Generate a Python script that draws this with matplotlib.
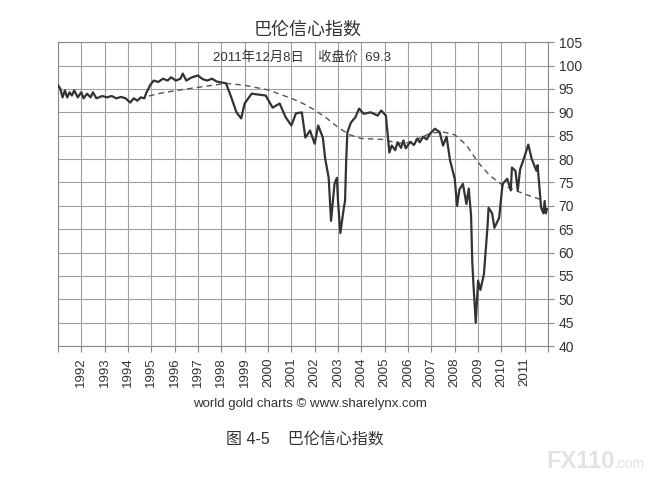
import matplotlib
matplotlib.use("Agg")
import matplotlib.pyplot as plt

plt.rcParams['font.family'] = ['Liberation Sans', 'Noto Sans CJK SC', 'DejaVu Sans']

# Barron's confidence index (decimal year, value)
years = [1991.0, 1991.1, 1991.2, 1991.3, 1991.4, 1991.5, 1991.6, 1991.7, 1991.85,
         1992.0, 1992.1, 1992.25, 1992.4, 1992.5, 1992.65, 1992.9, 1993.1, 1993.3,
         1993.5, 1993.7, 1993.9, 1994.1, 1994.25, 1994.4, 1994.55, 1994.7, 1994.8,
         1994.95, 1995.1, 1995.3, 1995.5, 1995.7, 1995.85, 1996.05, 1996.25, 1996.35,
         1996.5, 1996.7, 1997.0, 1997.2, 1997.4, 1997.6, 1997.8, 1998.0, 1998.2,
         1998.4, 1998.65, 1998.85, 1999.0, 1999.3, 1999.6, 1999.9, 2000.2, 2000.5,
         2000.75, 2001.0, 2001.2, 2001.45, 2001.6, 2001.8, 2002.0, 2002.15, 2002.35,
         2002.45, 2002.6, 2002.7, 2002.85, 2002.95, 2003.0, 2003.1, 2003.25, 2003.3,
         2003.35, 2003.4, 2003.55, 2003.75, 2003.9, 2004.1, 2004.4, 2004.7, 2004.85,
         2005.05, 2005.2, 2005.3, 2005.45, 2005.55, 2005.7, 2005.8, 2005.9, 2006.1,
         2006.25, 2006.4, 2006.5, 2006.65, 2006.8, 2006.95, 2007.15, 2007.35, 2007.5,
         2007.65, 2007.8, 2008.0, 2008.1, 2008.2,
         2008.35, 2008.5, 2008.6, 2008.7, 2008.75, 2008.8, 2008.9, 2009.0, 2009.1,
         2009.25, 2009.4, 2009.45, 2009.6, 2009.7, 2009.9, 2010.05, 2010.25, 2010.4,
         2010.45, 2010.6, 2010.7, 2010.8, 2011.0, 2011.15, 2011.3, 2011.5, 2011.55,
         2011.7, 2011.8, 2011.85, 2011.9, 2011.95]
index = [95.8, 95.1, 93.2, 94.7, 93.2, 94.3, 93.6, 94.7, 93.2,
         94.3, 93.0, 94.0, 93.2, 94.3, 93.0, 93.5, 93.2, 93.5,
         93.0, 93.3, 93.0, 92.1, 93.0, 92.5, 93.2, 93.0, 94.3,
         95.8, 96.8, 96.5, 97.2, 96.8, 97.5, 96.8, 97.2, 98.3,
         96.8, 97.4, 97.9, 97.1, 96.8, 97.2, 96.6, 96.4, 96.2,
         93.6, 90.0, 88.7, 91.9, 94.0, 93.8, 93.6, 91.0, 91.9,
         89.0, 87.2, 89.8, 90.0, 84.6, 86.1, 83.3, 87.2, 84.6,
         80.1, 76.0, 66.8, 74.7, 76.0, 71.0, 64.2, 69.6, 71.0,
         79.7, 85.7, 87.8, 89.0, 90.8, 89.7, 90.0, 89.3, 90.4,
         89.3, 81.4, 82.9, 81.9, 83.6, 82.4, 84.0, 82.3, 83.7,
         83.0, 84.4, 83.6, 84.8, 84.2, 85.5, 86.5, 85.8, 82.9,
         84.8, 79.7, 75.8, 70.0, 73.5,
         74.7, 70.4, 73.7, 67.9, 58.2, 53.3, 45.0, 54.0, 52.0,
         55.4, 65.3, 69.6, 68.4, 65.3, 67.4, 74.7, 75.8, 73.3,
         78.2, 77.5, 73.3, 77.8, 80.7, 83.1, 80.0, 77.5, 78.7,
         69.6, 68.4, 71.0, 68.4, 69.3]

# long moving average (dashed)
ma_years = [1994.9, 1995.5, 1996.5, 1997.5, 1998.2, 1999.0, 2000.0, 2001.0, 2001.5,
            2002.0, 2002.5, 2003.0, 2003.5, 2004.0, 2005.0, 2005.5, 2006.0, 2006.5,
            2007.0, 2007.5, 2008.0, 2008.5, 2009.0, 2009.5, 2010.0, 2010.5, 2011.0,
            2011.9]
ma_values = [93.5, 94.2, 95.0, 95.7, 96.2, 95.8, 94.8, 93.0, 91.9,
             90.5, 88.8, 86.8, 85.2, 84.4, 84.2, 83.4, 83.5, 84.5,
             85.6, 85.8, 85.2, 83.0, 79.3, 76.5, 74.6, 73.5, 72.5,
             71.0]

year_labels = list(range(1992, 2012))
y_ticks = list(range(40, 106, 5))

fig = plt.figure(figsize=(6.58, 4.8), dpi=100)
ax = fig.add_axes([0.088, 0.279, 0.745, 0.633])

ax.plot(years, index, color='#333333', linewidth=1.6, zorder=3)
ax.plot(ma_years, ma_values, color='#555555', linewidth=1.0,
        dashes=(4, 3), zorder=2)

ax.set_xlim(1991, 2012)
ax.set_ylim(40, 105)
ax.set_xticks(range(1991, 2013))
ax.set_xticklabels([''] + [str(y) for y in year_labels] + [''],
                   rotation=90, fontsize=9.5, color='#333333')
ax.set_yticks(y_ticks)
ax.set_yticklabels([str(v) for v in y_ticks], fontsize=10, color='#333333')
ax.yaxis.tick_right()
ax.tick_params(axis='both', length=4, color='#888888', direction='out')
ax.tick_params(axis='x', pad=4)
ax.grid(True, color='#a0a0a0', linewidth=0.8)
for s in ax.spines.values():
    s.set_color('#888888')
    s.set_linewidth(0.8)

ax.text(0.497, 0.95, '2011年12月8日    收盘价  69.3', transform=ax.transAxes,
        ha='center', va='center', fontsize=9.5, color='#333333')

fig.text(0.468, 0.9375, '巴伦信心指数', ha='center', va='center',
         fontsize=13, color='#333333')
fig.text(0.471, 0.158, 'world gold charts © www.sharelynx.com', ha='center',
         va='center', fontsize=9.5, color='#333333')
fig.text(0.463, 0.083, '图 4-5    巴伦信心指数', ha='center', va='center',
         fontsize=11.5, color='#333333')

# watermark
fig.text(0.935, 0.038, 'FX110', ha='right', va='center', fontsize=17,
         fontweight='bold', color='#e2e2e2')
fig.text(0.935, 0.034, '.com', ha='left', va='center', fontsize=10,
         color='#e2e2e2')

fig.savefig('out.png', dpi=100, facecolor='white')
